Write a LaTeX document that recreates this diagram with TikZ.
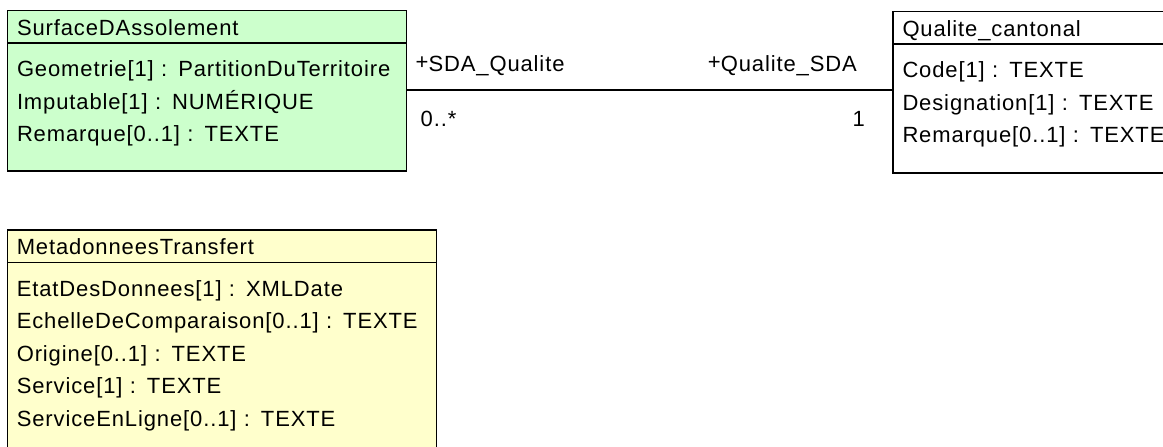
\documentclass[tikz,border=0pt]{standalone}
\usepackage{fontspec}
\setmainfont{Liberation Sans}[LetterSpace=4]
\usetikzlibrary{positioning}

\definecolor{classgreen}{RGB}{204,255,204}
\definecolor{classyellow}{RGB}{255,255,204}

\tikzset{
	basic/.style = {draw, line width=1.4pt, rectangle, outer sep=0pt, inner xsep=9.5pt,
		align=left, font=\fontsize{22}{32.5}\selectfont},
	head/.style  = {basic, anchor=north west, inner ysep=0pt, minimum height=32.5pt,
		text height=16.5pt, text depth=0pt},
	body/.style  = {basic, inner ysep=18.5pt, text height=15pt},
	role/.style  = {inner sep=0pt, font=\fontsize{22}{25}\selectfont},
	assoc/.style = {draw, line width=1.3pt}
}

\begin{document}
\begin{tikzpicture}[x=1pt, y=1pt]
\useasboundingbox (0,0) rectangle (1163,-447);
\clip (0,0) rectangle (1163,-447);

% classes: header first, attribute compartment below it
\node[head, fill=classgreen, text width=380pt] (sda) at (7.5,-10.5) {SurfaceDAssolement};
\node[body, fill=classgreen, text width=380pt, text depth=76pt,
	below=0pt of sda.south west, anchor=north west] (sdab)
	{Geometrie[1] : PartitionDuTerritoire\\ Imputable[1] : NUMÉRIQUE\\ Remarque[0..1] : TEXTE};

\node[head, fill=white, text width=300pt] (qc) at (893,-11.5) {Qualite\_cantonal};
\node[body, fill=white, text width=300pt, text depth=77pt,
	below=0pt of qc.south west, anchor=north west] (qcb)
	{Code[1] : TEXTE\\ Designation[1] : TEXTE\\ Remarque[0..1] : TEXTE};

\node[head, fill=classyellow, text width=410pt] (meta) at (7.3,-230) {MetadonneesTransfert};
\node[body, fill=classyellow, text width=410pt, text depth=200pt,
	below=0pt of meta.south west, anchor=north west] (metab)
	{EtatDesDonnees[1] : XMLDate\\ EchelleDeComparaison[0..1] : TEXTE\\ Origine[0..1] : TEXTE\\
	 Service[1] : TEXTE\\ ServiceEnLigne[0..1] : TEXTE};

% association and its ends
\coordinate (sdaend) at (sdab.east |- 0,-90);
\coordinate (qcend) at (qcb.west |- 0,-90);
\draw[assoc] (sdaend) -- (qcend);

\node[role, anchor=base west] (r1) at ([shift={(9,19)}]sdaend) {\raisebox{2pt}{+}SDA\_Qualite};
\node[role, anchor=base west] (m1) at ([shift={(14,-36)}]sdaend) {0..*};
\node[role, anchor=base east] (r2) at ([shift={(-36,19)}]qcend) {\raisebox{2pt}{+}Qualite\_SDA};
\node[role, anchor=base east] (m2) at ([shift={(-28,-36)}]qcend) {1};

\end{tikzpicture}
\end{document}
